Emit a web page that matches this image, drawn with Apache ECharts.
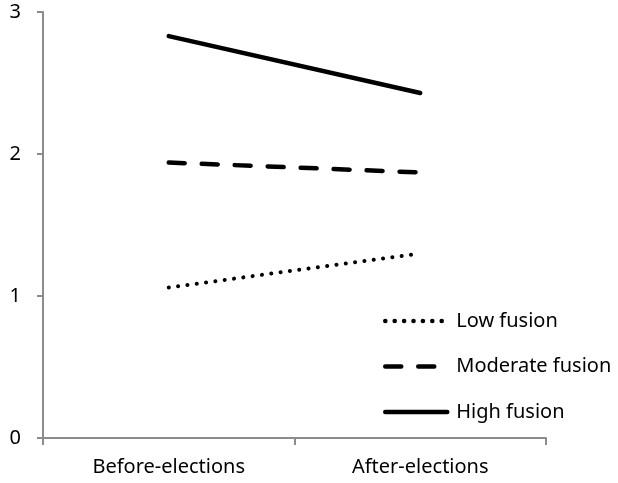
<!DOCTYPE html>
<html>
<head>
<meta charset="utf-8">
<script src="https://cdn.jsdelivr.net/npm/echarts@6/dist/echarts.min.js"></script>
<style>html,body{margin:0;padding:0;background:#fff;}#c{width:618px;height:483px;}</style>
</head>
<body>
<div id="c"></div>
<script>
const categories = ['Before-elections', 'After-elections'];
const lowFusion = [1.06, 1.30];
const moderateFusion = [1.94, 1.87];
const highFusion = [2.83, 2.43];
const yTicks = [0, 1, 2, 3];

const chart = echarts.init(document.getElementById('c'));
const font = 'Noto Sans';
chart.setOption({
  animation: false,
  backgroundColor: '#fff',
  grid: { left: 43, right: 72, top: 12, bottom: 45 },
  xAxis: {
    type: 'category', data: categories, boundaryGap: true,
    axisLine: { lineStyle: { color: '#8c8c8c', width: 2 } },
    axisTick: { show: true, length: 7, lineStyle: { color: '#8c8c8c', width: 2 } },
    axisLabel: { color: '#000', fontFamily: font, fontSize: 20, margin: 19 },
    splitLine: { show: false }
  },
  yAxis: {
    type: 'value', min: 0, max: 3, interval: 1,
    axisLine: { show: true, lineStyle: { color: '#8c8c8c', width: 2 } },
    axisTick: { show: true, length: 6, lineStyle: { color: '#8c8c8c', width: 2 } },
    axisLabel: { color: '#000', fontFamily: font, fontSize: 20, margin: 22,
      formatter: v => yTicks.includes(v) ? String(v) : '' },
    splitLine: { show: false }
  },
  legend: {
    orient: 'vertical', left: 378, top: 306,
    itemWidth: 62, itemHeight: 20, itemGap: 25.5,
    itemStyle: { opacity: 0, borderWidth: 0 },
    lineStyle: { width: 4.5 },
    textStyle: { color: '#000', fontFamily: font, fontSize: 20, padding: [0, 0, 0, 4] },
    data: ['Low fusion', 'Moderate fusion', 'High fusion']
  },
  series: [
    { name: 'Low fusion', type: 'line', data: lowFusion, symbol: 'none',
      lineStyle: { color: '#000', width: 4, type: [0.1, 9.3], cap: 'round' }, itemStyle: { color: '#000' } },
    { name: 'Moderate fusion', type: 'line', data: moderateFusion, symbol: 'none',
      lineStyle: { color: '#000', width: 4.5, type: [16, 17], cap: 'round' }, itemStyle: { color: '#000' } },
    { name: 'High fusion', type: 'line', data: highFusion, symbol: 'none',
      lineStyle: { color: '#000', width: 4.5, cap: 'round' }, itemStyle: { color: '#000' } }
  ]
});
</script>
</body>
</html>
